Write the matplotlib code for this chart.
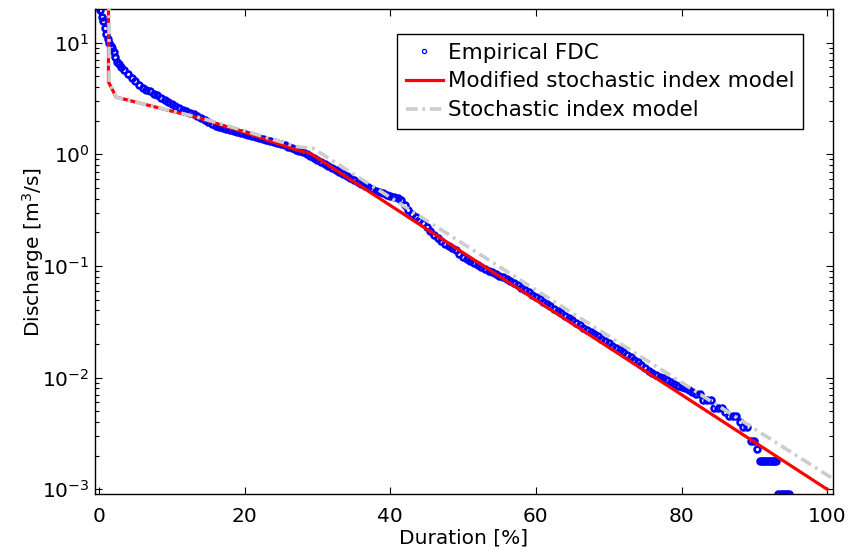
import matplotlib
matplotlib.use("Agg")
import matplotlib.pyplot as plt
from matplotlib.ticker import LogLocator, FixedLocator, NullFormatter

plt.rcParams['font.family'] = ['DejaVu Sans']
plt.rcParams['mathtext.fontset'] = 'dejavusans'

# Empirical flow duration curve (duration %, discharge m3/s)
emp_duration = [
    0.2, 0.4, 0.6, 0.8, 1.0, 1.2, 1.4, 1.6, 1.8, 2.0, 2.25, 2.5, 2.75, 3.0, 3.5,
    4.0, 4.5, 5.0, 5.5, 6.0, 6.5, 7.0, 7.5, 8.0, 8.5, 9.0, 9.5, 10.0, 10.5, 11.0,
    11.5, 12.0, 12.5, 13.0, 13.5, 14.0, 14.5, 15.0, 15.5, 16.0, 16.5, 17.0, 17.5,
    18.0, 18.5, 19.0, 19.5, 20.0, 20.5, 21.0, 21.5, 22.0, 22.5, 23.0, 23.5, 24.0,
    24.5, 25.0, 25.5, 26.0, 26.5, 27.0, 27.5, 28.0, 28.5, 29.0, 29.5, 30.0, 30.5,
    31.0, 31.5, 32.0, 32.5, 33.0, 33.5, 34.0, 34.5, 35.0, 35.5, 36.0, 36.5, 37.0,
    37.5, 38.0, 38.5, 39.0, 39.5, 40.0, 40.5, 41.0, 41.5, 42.0, 42.5, 43.0, 43.5,
    44.0, 44.5, 45.0, 45.5, 46.0, 46.5, 47.0, 47.5, 48.0, 48.5, 49.0, 49.5, 50.0,
    50.5, 51.0, 51.5, 52.0, 52.5, 53.0, 53.5, 54.0, 54.5, 55.0, 55.5, 56.0, 56.5,
    57.0, 57.5, 58.0, 58.5, 59.0, 59.5, 60.0, 60.5, 61.0, 61.5, 62.0, 62.5, 63.0,
    63.5, 64.0, 64.5, 65.0, 65.5, 66.0, 66.5, 67.0, 67.5, 68.0, 68.5, 69.0, 69.5,
    70.0, 70.5, 71.0, 71.5, 72.0, 72.5, 73.0, 73.5, 74.0, 74.5, 75.0, 75.5, 76.0,
    76.5, 77.0, 77.5, 78.0, 78.5, 79.0, 79.5, 80.0, 80.5, 81.0, 81.5, 82.0, 82.5,
    83.0, 83.5, 84.0, 84.5, 85.0, 85.5, 86.0, 86.5, 87.0, 87.5, 88.0, 88.5, 89.0,
    89.5, 90.0, 90.4, 90.75, 91.0, 91.25, 91.5, 91.75, 92.0, 92.25, 92.5, 92.75,
    93.0, 93.3, 93.6, 93.9, 94.2, 94.5, 94.7,
]
emp_discharge = [
    19.5, 17.0, 15.5, 13.5, 12.0, 10.8, 10.0, 9.4, 8.9, 8.3, 7.4, 6.7, 6.4, 6.1, 5.7,
    5.2, 4.8, 4.5, 4.2, 3.95, 3.8, 3.65, 3.5, 3.38, 3.22, 3.07, 2.95, 2.82, 2.70, 2.59,
    2.50, 2.42, 2.35, 2.28, 2.21, 2.12, 2.02, 1.94, 1.87, 1.81, 1.77, 1.73, 1.69,
    1.65, 1.61, 1.58, 1.54, 1.51, 1.48, 1.45, 1.42, 1.40, 1.37, 1.35, 1.32, 1.30,
    1.27, 1.24, 1.20, 1.16, 1.13, 1.10, 1.07, 1.04, 1.01, 0.97, 0.93, 0.89, 0.85,
    0.82, 0.79, 0.76, 0.73, 0.70, 0.67, 0.64, 0.61, 0.585, 0.565, 0.545, 0.525, 0.505,
    0.487, 0.472, 0.458, 0.446, 0.433, 0.424, 0.415, 0.405, 0.39, 0.35, 0.318, 0.295, 0.276,
    0.26, 0.243, 0.222, 0.205, 0.19, 0.177, 0.166, 0.158, 0.151, 0.145, 0.138, 0.129, 0.121,
    0.116, 0.111, 0.106, 0.102, 0.098, 0.094, 0.091, 0.088, 0.085, 0.082, 0.079, 0.076, 0.073,
    0.070, 0.067, 0.064, 0.061, 0.058, 0.0555, 0.053, 0.0505, 0.048, 0.0458, 0.0437, 0.0416, 0.0396,
    0.0377, 0.0358, 0.0341, 0.0325, 0.031, 0.0295, 0.0281, 0.0268, 0.0256, 0.0245, 0.0234, 0.0223, 0.0213,
    0.0203, 0.0194, 0.0185, 0.0176, 0.0168, 0.016, 0.0152, 0.0144, 0.0137, 0.0129, 0.0121, 0.0115, 0.0110,
    0.0106, 0.0102, 0.0099, 0.0095, 0.0091, 0.0088, 0.0085, 0.0082, 0.0080, 0.0077, 0.0075, 0.0072, 0.0072,
    0.0063, 0.0063, 0.0063, 0.0054, 0.0054, 0.0054, 0.0049, 0.0045, 0.0045, 0.0045, 0.0040, 0.0036, 0.0036,
    0.0027, 0.0027, 0.0023, 0.0018, 0.0018, 0.0018, 0.0018, 0.0018, 0.0018, 0.0018, 0.0018, 0.0018,
    0.0018, 0.0009, 0.0009, 0.0009, 0.0009, 0.0009, 0.0009,
]

# Modified stochastic index model
mod_duration = [1.3, 1.3, 2.35, 13.9, 20.3, 27.2, 29.0, 100.0]
mod_discharge = [30.0, 4.45, 3.25, 2.1, 1.55, 1.09, 1.02, 0.001]

# Stochastic index model
sim_duration = [1.38, 1.38, 2.45, 13.9, 20.3, 27.2, 29.4, 101.0]
sim_discharge = [30.0, 4.4, 3.22, 2.12, 1.6, 1.17, 1.13, 0.00122]

x_ticks = [0, 20, 40, 60, 80, 100]
y_ticks = [1e-3, 1e-2, 1e-1, 1e0, 1e1]
y_tick_labels = [r'$10^{-3}$', r'$10^{-2}$', r'$10^{-1}$', r'$10^{0}$', r'$10^{1}$']

FS = 14.5

fig = plt.figure(figsize=(8.52, 5.51), dpi=100)
ax = fig.add_axes([95/852, 57/551, 738/852, 485/551])

ax.plot(emp_duration, emp_discharge, linestyle='none', marker='o', markersize=4.2,
        markerfacecolor='none', markeredgecolor='#0000ff', markeredgewidth=1.9,
        label='Empirical FDC', zorder=2)
ax.plot(mod_duration, mod_discharge, color='#ff0000', linewidth=2.3,
        label='Modified stochastic index model', zorder=3)
ax.plot(sim_duration, sim_discharge, color='#cccccc', linewidth=2.6,
        dashes=(3.2, 1.3, 0.8, 1.3), label='Stochastic index model', zorder=4)

ax.set_yscale('log')
ax.set_xlim(-0.55, 100.8)
ax.set_ylim(9.08e-4, 20.0)

ax.xaxis.set_major_locator(FixedLocator(x_ticks))
ax.set_yticks(y_ticks)
ax.set_yticklabels(y_tick_labels)
ax.yaxis.set_minor_locator(LogLocator(base=10, subs=range(2, 10), numticks=20))
ax.yaxis.set_minor_formatter(NullFormatter())

ax.tick_params(which='both', direction='in', top=True, right=True, labelsize=FS,
               width=0.8, colors='black')
ax.tick_params(which='major', length=5)
ax.tick_params(axis='x', which='major', pad=9)
ax.tick_params(axis='y', which='major', pad=4)
ax.tick_params(which='minor', length=3)
for s in ax.spines.values():
    s.set_linewidth(1.0)

ax.set_xlabel('Duration [%]', fontsize=FS, labelpad=2)
ax.set_ylabel(r'Discharge [m$^3$/s]', fontsize=FS)
ax.yaxis.set_label_coords(-0.066, 0.5)

leg = ax.legend(loc='upper right', bbox_to_anchor=(0.959, 0.948), fontsize=15.5,
                frameon=True, fancybox=False, edgecolor='black', framealpha=1,
                handlelength=1.75, handletextpad=0.2, labelspacing=0.4,
                borderpad=0.4, borderaxespad=0)
leg.get_frame().set_linewidth(1.0)
h0 = leg.legend_handles[0]
h0.set_markersize(3.0)
h0.set_markeredgewidth(0.9)

fig.savefig('out.png', dpi=100)
